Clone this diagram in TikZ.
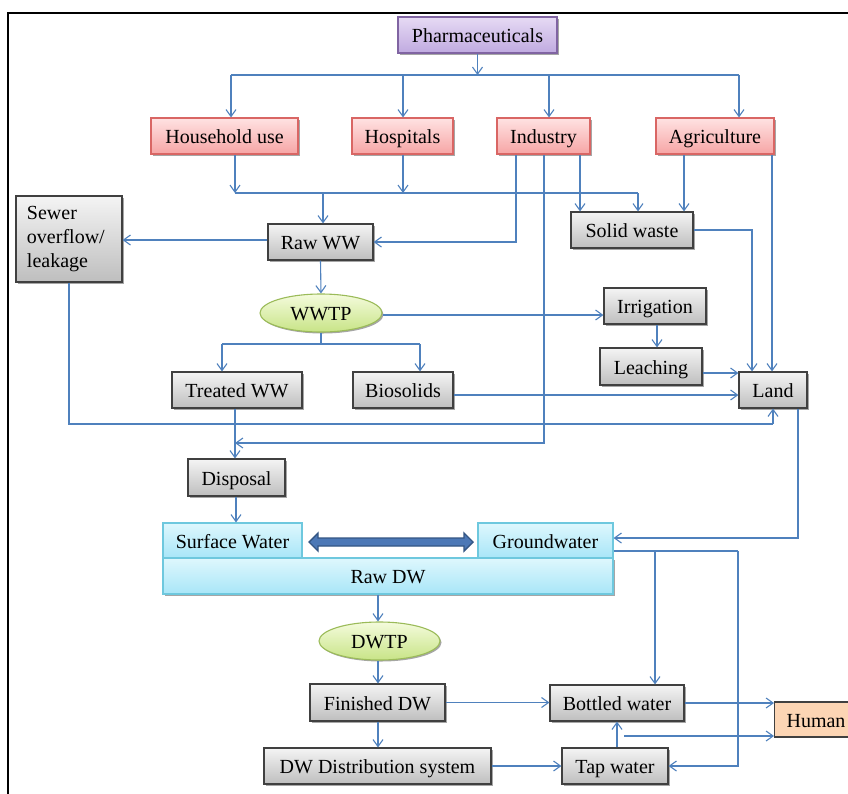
\documentclass[tikz,border=0pt]{standalone}
\usepackage{fontspec}
\setmainfont{Liberation Serif}
\usetikzlibrary{arrows.meta,shadows,shapes.geometric}
\definecolor{conn}{RGB}{79,129,189}
\definecolor{grayB}{RGB}{64,64,64}
\definecolor{grayT}{RGB}{244,244,244}
\definecolor{grayD}{RGB}{190,190,190}
\definecolor{redB}{RGB}{217,102,100}
\definecolor{redT}{RGB}{255,226,226}
\definecolor{redD}{RGB}{246,165,165}
\definecolor{purB}{RGB}{128,100,162}
\definecolor{purT}{RGB}{230,218,244}
\definecolor{purD}{RGB}{192,170,224}
\definecolor{grnB}{RGB}{155,187,89}
\definecolor{grnT}{RGB}{244,251,220}
\definecolor{grnD}{RGB}{200,228,135}
\definecolor{cyB}{RGB}{110,200,222}
\definecolor{cyT}{RGB}{222,247,253}
\definecolor{cyD}{RGB}{168,230,248}
\definecolor{orF}{RGB}{252,213,180}
\definecolor{dblF}{RGB}{76,120,182}
\definecolor{dblB}{RGB}{52,86,132}
\begin{document}
\begin{tikzpicture}[x=1pt,y=-1pt,
  font=\fontsize{20}{24}\selectfont,
  shad/.style={drop shadow={shadow xshift=1.5pt,shadow yshift=-1.5pt,opacity=0.35,fill=black}},
  tx/.style={text height=15.5pt, text depth=0pt},
  basebox/.style={rectangle, inner sep=0pt, minimum height=36pt, line width=1.1pt, shad, tx},
  graybox/.style={basebox, draw=grayB, top color=grayT, bottom color=grayD},
  redbox/.style={basebox, draw=redB, top color=redT, bottom color=redD},
  purbox/.style={basebox, draw=purB, top color=purT, bottom color=purD},
  cybox/.style={rectangle, inner sep=0pt, minimum height=35pt, line width=1.1pt, draw=cyB, top color=cyT, bottom color=cyD, tx},
  grnell/.style={ellipse, inner sep=0pt, minimum height=38pt, line width=1.1pt, draw=grnB, top color=grnT, bottom color=grnD, shad, tx},
  arr/.style={conn, line width=1.1pt, -{Straight Barb[length=7pt,width=10pt,line width=1.1pt]}},
  ln/.style={conn, line width=1.1pt}
]
\useasboundingbox (0,0) rectangle (848,793);
\clip (0,0) rectangle (848,793);
\fill[white] (0,0) rectangle (848,793);
\draw[line width=2.2pt] (8,800) -- (8,13) -- (860,13);

% nodes
\node[purbox, minimum width=159pt] (pharma) at (477.5,35) {Pharmaceuticals};
\node[redbox, minimum width=147pt] (house) at (224.5,136) {Household use};
\node[redbox, minimum width=101pt] (hosp) at (402.5,136) {Hospitals};
\node[redbox, minimum width=93pt] (ind) at (543.5,136) {Industry};
\node[redbox, minimum width=118pt] (agri) at (715,136) {Agriculture};
\node[rectangle, inner sep=0pt, line width=1.1pt, shad, draw=grayB, top color=grayT, bottom color=grayD, minimum height=86pt, text width=84pt, inner xsep=11pt, align=left] (sewer) at (69,239) {Sewer\\overflow/\\leakage};
\node[graybox, minimum width=105pt] (raw) at (320.5,242) {Raw WW};
\node[graybox, minimum width=122pt] (solid) at (632,230) {Solid waste};
\node[grnell, minimum width=122pt] (wwtp) at (321,313) {WWTP};
\node[graybox, minimum width=102pt] (irr) at (655,306) {Irrigation};
\node[graybox, minimum width=102pt, minimum height=37pt] (leach) at (651,366.5) {Leaching};
\node[graybox, minimum width=68pt] (land) at (773,390) {Land};
\node[graybox, minimum width=130pt] (treated) at (237,390) {Treated WW};
\node[graybox, minimum width=100pt] (bio) at (403,390) {Biosolids};
\node[graybox, minimum width=97pt, minimum height=37pt] (disp) at (236.5,477.5) {Disposal};
\node[cybox, minimum width=450pt, minimum height=36pt, shad] (rawdw) at (388,576) {Raw DW};
\node[cybox, minimum width=139pt] (sw) at (232.5,540.5) {Surface Water};
\node[cybox, minimum width=135pt] (gw) at (545.5,540.5) {Groundwater};
\node[grnell, minimum width=121pt] (dwtp) at (379.5,641) {DWTP};
\node[graybox, minimum width=135pt, minimum height=37pt] (fin) at (377.5,702.5) {Finished DW};
\node[graybox, minimum width=134pt] (bottled) at (617,703) {Bottled water};
\node[graybox, minimum width=227pt] (dist) at (377.5,766) {DW Distribution system};
\node[graybox, minimum width=106pt] (tap) at (615,766) {Tap water};
\node[rectangle, draw=grayB, line width=1.1pt, fill=orF, anchor=west, minimum height=35pt, text width=82pt, inner xsep=12pt, inner ysep=0pt, align=left, tx] (human) at (774,719.5) {Human};

% double arrow between surface water and groundwater
\filldraw[fill=dblF, draw=dblB, line width=1.4pt]
  (309,542) -- (318,533) -- (318,538) -- (464,538) -- (464,533) -- (473,542)
  -- (464,551) -- (464,546) -- (318,546) -- (318,551) -- cycle;

% coordinates
\coordinate (b1) at (477.5,75);
\coordinate (b2) at (323,193);
\coordinate (b3) at (321,344);
\coordinate (ind1) at (516,242);
\coordinate (ind2) at (544,443);
\coordinate (sw1) at (752,230);
\coordinate (sew1) at (69,424);
\coordinate (land1) at (798,538);
\coordinate (gw1) at (738,551);
\coordinate (gw2) at (738,766);
\coordinate (tapj) at (624,736);

% connectors: pharmaceuticals
\draw[arr] (pharma.south) -- (b1);
\draw[ln] (231,75) -- (739,75);
\draw[arr] (b1 -| 231,0) -- (house.north -| 231,0);
\draw[arr] (b1 -| 403,0) -- (hosp.north -| 403,0);
\draw[arr] (b1 -| 549,0) -- (ind.north -| 549,0);
\draw[arr] (b1 -| 739,0) -- (agri.north -| 739,0);

% sources to wastewater/solid waste
\draw[arr] (house.south -| 235,0) -- (b2 -| 235,0);
\draw[arr] (hosp.south -| 403,0) -- (b2 -| 403,0);
\draw[ln] (b2 -| 235,0) -- (b2 -| 638,0);
\draw[arr] (b2) -- (raw.north -| b2);
\draw[arr] (b2 -| 638,0) -- (solid.north -| 638,0);
\draw[arr] (ind.south -| ind1) -- (ind1) -- (raw.east |- ind1);
\draw[ln] (ind.south -| ind2) -- (ind2) -- (235,443);
\draw[arr] (ind2 -| 240,0) -- (235,443);
\draw[arr] (ind.south -| 580,0) -- (solid.north -| 580,0);
\draw[arr] (agri.south -| 684,0) -- (solid.north -| 684,0);
\draw[arr] (agri.south -| 772,0) -- (land.north -| 772,0);
\draw[arr] (solid.east) -- (sw1) -- (land.north -| sw1);

% raw WW
\draw[arr] (raw.west |- 0,240) -- (sewer.east |- 0,240);
\draw[ln] (sewer.south) -- (sew1) -- (sew1 -| land.south);
\draw[arr] (sew1 -| land.south) -- (land.south);
\draw[arr] (raw.south) -- (wwtp.north);

% WWTP
\draw[arr] (wwtp.east |- 0,315) -- (irr.west |- 0,315);
\draw[arr] (irr.south -| 657,0) -- (leach.north -| 657,0);
\draw[arr] (leach.east |- 0,373) -- (land.west |- 0,373);
\draw[arr] (bio.east |- 0,395) -- (land.west |- 0,395);
\draw[ln] (wwtp.south) -- (b3);
\draw[ln] (b3 -| 222,0) -- (b3 -| 420,0);
\draw[arr] (b3 -| 222,0) -- (treated.north -| 222,0);
\draw[arr] (b3 -| 420,0) -- (bio.north -| 420,0);

% disposal
\draw[arr] (treated.south -| 235,0) -- (disp.north -| 235,0);
\draw[arr] (disp.south -| 236,0) -- (sw.north -| 236,0);

% land to groundwater
\draw[arr] (land.south -| land1) -- (land1) -- (gw.east |- land1);

% groundwater outputs
\draw[ln] (gw.east |- gw1) -- (gw1);
\draw[arr] (gw1) -- (gw2) -- (tap.east |- gw2);
\draw[arr] (gw1 -| 655,0) -- (bottled.north -| 655,0);

% drinking water
\draw[arr] (rawdw.south -| 378,0) -- (dwtp.north -| 378,0);
\draw[arr] (dwtp.south -| 378,0) -- (fin.north -| 378,0);
\draw[arr] (fin.east) -- (bottled.west |- fin.east);
\draw[arr] (fin.south -| 378,0) -- (dist.north -| 378,0);
\draw[arr] (dist.east) -- (tap.west |- dist.east);
\draw[arr] (tap.north -| 617,0) -- (bottled.south -| 617,0);
\draw[arr] (bottled.east) -- (human.west |- bottled.east);
\draw[arr] (tapj) -- (human.west |- tapj);
\end{tikzpicture}
\end{document}
